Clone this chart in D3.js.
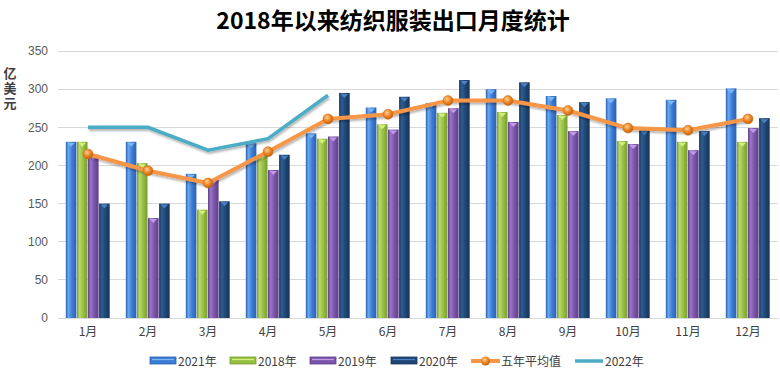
<!DOCTYPE html>
<html><head><meta charset="utf-8">
<script src="https://cdn.jsdelivr.net/npm/d3@7"></script>
<style>
body{margin:0;background:#fff;}
svg{display:block;font-family:"Liberation Sans","Noto Sans CJK SC",sans-serif;}
</style></head><body>
<svg id="c" width="780" height="374"></svg>
<script>
const months = ["1月","2月","3月","4月","5月","6月","7月","8月","9月","10月","11月","12月"];
const barSeries = ["2021年","2018年","2019年","2020年"];
const v2021 = [231,231,189,229,242,276,282,300,291,288,286,301];
const v2018 = [231,203,142,214,235,254,269,270,266,232,231,231];
const v2019 = [214,131,181,194,238,247,275,257,245,228,220,249];
const v2020 = [150,150,153,214,295,290,312,309,283,246,245,262];
const avg5 = [215,193,177,218,261,267,285,285,272,249,246,261];
const v2022 = [250,250,220,235,292];
const yTicks = [0,50,100,150,200,250,300,350];

const colors = {
  "2021年":{base:"#3a7bd5",light:"#6aa6ee",dark:"#2c62b0",tip:"#7ab8f5"},
  "2018年":{base:"#95bf43",light:"#b7d966",dark:"#789c31",tip:"#d4ee7c"},
  "2019年":{base:"#7a54a8",light:"#9a76c6",dark:"#5f3f88",tip:"#c09ae6"},
  "2020年":{base:"#1f4675",light:"#2f5d93",dark:"#17355a",tip:"#4b7fc0"}
};
const barData = [v2021,v2018,v2019,v2020];

const svg = d3.select("#c");
const defs = svg.append("defs");
barSeries.forEach((s,i)=>{
  const c = colors[s];
  const g = defs.append("linearGradient").attr("id","g"+i).attr("x1","0").attr("x2","1").attr("y1","0").attr("y2","0");
  g.append("stop").attr("offset","0").attr("stop-color",c.dark);
  g.append("stop").attr("offset","0.25").attr("stop-color",c.light);
  g.append("stop").attr("offset","0.6").attr("stop-color",c.base);
  g.append("stop").attr("offset","1").attr("stop-color",c.dark);
});
const rg = defs.append("radialGradient").attr("id","mk").attr("cx","0.4").attr("cy","0.35").attr("r","0.65");
rg.append("stop").attr("offset","0").attr("stop-color","#fdd09a");
rg.append("stop").attr("offset","0.5").attr("stop-color","#f08a2a");
rg.append("stop").attr("offset","1").attr("stop-color","#c0600c");
const sh = defs.append("filter").attr("id","sh").attr("x","-10%").attr("y","-10%").attr("width","120%").attr("height","140%");
sh.append("feDropShadow").attr("dx","1").attr("dy","2").attr("stdDeviation","1.2").attr("flood-color","#000").attr("flood-opacity","0.3");

const x0 = d3.scaleBand().domain(months).range([58,778]).paddingInner(0.26).paddingOuter(0.13);
const xC = d3.scaleBand().domain(months).range([58,778]);
const x1 = d3.scaleBand().domain(barSeries).range([0,x0.bandwidth()]);
const y = d3.scaleLinear().domain([0,350]).range([318,51]);

// grid
svg.append("g").selectAll("line").data(yTicks).join("line")
  .attr("x1",58).attr("x2",778).attr("y1",d=>y(d)).attr("y2",d=>y(d))
  .attr("stroke","#d9d9d9").attr("stroke-width",1).attr("shape-rendering","crispEdges");

// y axis
const yAxis = d3.axisLeft(y).tickValues(yTicks).tickSize(0).tickPadding(0);
const ya = svg.append("g").attr("transform","translate(48,0)").call(yAxis);
ya.select(".domain").remove();
ya.selectAll("text").attr("fill","#595959").style("font-size","12px").style("font-family","'Liberation Sans',sans-serif");

// x axis
const xAxis = d3.axisBottom(xC).tickSize(0).tickPadding(9);
const xa = svg.append("g").attr("transform","translate(0,318)").call(xAxis);
xa.select(".domain").attr("stroke","#d9d9d9");
xa.selectAll("text").attr("fill","#404040").style("font-size","12px").style("font-family","'Noto Sans CJK SC',sans-serif");

// bars
barSeries.forEach((s,i)=>{
  const g = svg.append("g");
  const vals = barData[i];
  g.selectAll("rect").data(months).join("rect")
    .attr("x",m=>x0(m)+x1(s))
    .attr("width",x1.bandwidth()-0.5)
    .attr("y",(m,j)=>y(vals[j]))
    .attr("height",(m,j)=>318-y(vals[j]))
    .attr("fill","url(#g"+i+")");
  g.selectAll("path").data(months).join("path")
    .attr("d",(m,j)=>{
      const bx = x0(m)+x1(s), w = x1.bandwidth()-0.5, ty = y(vals[j]);
      return `M${bx+1.5},${ty+1}L${bx+w-1.5},${ty+1}L${bx+w/2},${ty+5}Z`;
    })
    .attr("fill",colors[s].tip);
});

// 2022 line
const line = d3.line().x((d,i)=>xC(months[i])+xC.bandwidth()/2).y(d=>y(d));
svg.append("path").datum(v2022).attr("d",line).attr("fill","none")
  .attr("stroke","#4bacc6").attr("stroke-width",3.5).attr("filter","url(#sh)");

// avg line
svg.append("path").datum(avg5).attr("d",line).attr("fill","none")
  .attr("stroke","#f79646").attr("stroke-width",4).attr("stroke-linejoin","round").attr("filter","url(#sh)");
svg.append("g").selectAll("circle").data(avg5).join("circle")
  .attr("cx",(d,i)=>xC(months[i])+xC.bandwidth()/2).attr("cy",d=>y(d)).attr("r",5)
  .attr("fill","url(#mk)").attr("stroke","#d06a10").attr("stroke-width",0.5);

// title
svg.append("text").attr("x",393).attr("y",29).attr("text-anchor","middle")
  .style("font-family","'Noto Sans CJK SC',sans-serif").style("font-weight","bold").style("font-size","23px")
  .attr("fill","#000").text("2018年以来纺织服装出口月度统计");

// y label (vertical)
svg.append("text").attr("x",10).attr("y",67)
  .style("writing-mode","vertical-rl").style("text-orientation","upright")
  .style("font-family","'Noto Sans CJK SC',sans-serif").style("font-weight","bold").style("font-size","13px")
  .style("letter-spacing","2px")
  .attr("fill","#404040").text("亿美元");

// legend
const legendItems = [
  {name:"2021年",type:"bar",i:0,x:150},
  {name:"2018年",type:"bar",i:1,x:230},
  {name:"2019年",type:"bar",i:2,x:310},
  {name:"2020年",type:"bar",i:3,x:391},
  {name:"五年平均值",type:"avg",x:471},
  {name:"2022年",type:"line",x:575}
];
const lg = svg.append("g");
legendItems.forEach(it=>{
  const ly = 361;
  if(it.type==="bar"){
    const c = colors[it.name];
    lg.append("rect").attr("x",it.x).attr("y",ly-4).attr("width",26).attr("height",7).attr("fill",c.base).attr("stroke",c.dark).attr("stroke-width",0.8);
    lg.append("line").attr("x1",it.x+2).attr("x2",it.x+24).attr("y1",ly-1.5).attr("y2",ly-1.5).attr("stroke",c.tip).attr("stroke-width",1.3);
  } else if(it.type==="avg"){
    lg.append("line").attr("x1",it.x).attr("x2",it.x+29).attr("y1",ly).attr("y2",ly).attr("stroke","#f79646").attr("stroke-width",4);
    lg.append("circle").attr("cx",it.x+14.5).attr("cy",ly).attr("r",4.5).attr("fill","url(#mk)");
  } else {
    lg.append("line").attr("x1",it.x).attr("x2",it.x+28).attr("y1",ly).attr("y2",ly).attr("stroke","#4bacc6").attr("stroke-width",3.5);
  }
  lg.append("text").attr("x",it.x+(it.type==="bar"?28:30)).attr("y",ly+4.5)
    .style("font-family","'Noto Sans CJK SC',sans-serif").style("font-size","12px").attr("fill","#404040").text(it.name);
});
</script>
</body></html>
